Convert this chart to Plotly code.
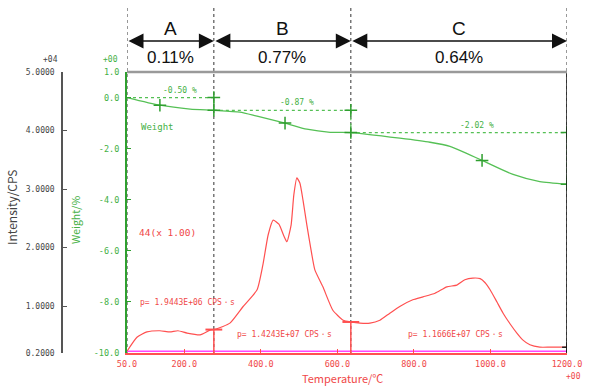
import plotly.graph_objects as go

# ---------------- data ----------------
temp_ms = [50, 76, 102, 136, 162, 183, 207, 241, 267, 283, 319, 353, 390, 405, 419, 432, 447,
           460, 468, 479, 486, 494, 502, 510, 520, 531, 541, 562, 588, 615, 635, 659, 685, 711,
           737, 764, 797, 824, 855, 886, 912, 933, 954, 973, 986, 999, 1017, 1033, 1051, 1069,
           1085, 1103, 1129, 1156, 1200]
intensity = [0.23, 0.47, 0.56, 0.58, 0.56, 0.58, 0.54, 0.51, 0.59, 0.61, 0.71, 0.99, 1.28, 1.70,
             2.22, 2.47, 2.40, 2.20, 2.10, 2.39, 2.90, 3.19, 3.10, 2.81, 2.39, 1.96, 1.62, 1.33,
             0.93, 0.76, 0.73, 0.71, 0.71, 0.76, 0.88, 1.00, 1.11, 1.16, 1.22, 1.33, 1.36, 1.45,
             1.48, 1.47, 1.40, 1.28, 1.07, 0.88, 0.70, 0.54, 0.42, 0.34, 0.30, 0.30, 0.30]

temp_wt = [50, 136, 215, 277, 345, 390, 463, 520, 581, 635, 763, 842, 894, 978, 1059, 1129, 1200]
weight = [0.0, -0.30, -0.45, -0.50, -0.57, -0.73, -1.00, -1.24, -1.36, -1.37, -1.59, -1.75,
          -1.91, -2.46, -3.01, -3.29, -3.39]

stage_bounds = [50, 277, 635, 1200]
stage_weights = [0.0, -0.50, -1.37, -3.39]
stage_intensity = [0.23, 0.60, 0.73, 0.30]
stage_names = ["A", "B", "C"]
stage_pct = ["0.11%", "0.77%", "0.64%"]
step_labels = ["-0.50 %", "-0.87 %", "-2.02 %"]
step_label_pos = [(188, 0.26), (494, -0.18), (965, -1.08)]
mid_temps = [136, 463, 978]
mid_weights = [-0.30, -1.00, -2.46]
peak_areas = ["p= 1.9443E+06 CPS・s", "p= 1.4243E+07 CPS・s", "p= 1.1666E+07 CPS・s"]
peak_label_pos = [(79, 1.07), (332, 0.51), (779, 0.52)]
baseline = 0.23

x_ticks = [50, 200, 400, 600, 800, 1000, 1200]
wt_ticks = [1, 0, -2, -4, -6, -8, -10]
int_ticks = [5, 4, 3, 2, 1, 0.2]

# ---------------- style ----------------
RED = "#ff5050"
RED_TXT = "#f04848"
GREEN = "#55c055"
GREEN_AX = "#2f9f2f"
GREEN_TXT = "#44b044"
MAGENTA = "#ff44ff"
GRAY = "#444444"
MONO = "DejaVu Sans Mono"
JP = "Noto Sans CJK JP"

OFF = 0  # page body margin removed by post_script
W, H = 590 - OFF, 390 - OFF
ML, MR, MT, MB = 127 - 107 - OFF, 23, 72 - OFF, 37
PW = W - ML - MR
PH = H - MT - MB


def px_x(px):
    return (px - OFF - ML) / PW


def px_y(py):
    return (H - MB - (py - OFF)) / PH


fig = go.Figure()

# magenta baseline
fig.add_trace(go.Scatter(x=[stage_bounds[0], stage_bounds[-1]], y=[baseline, baseline],
                         yaxis="y2", mode="lines", line=dict(color=MAGENTA, width=1.5),
                         hoverinfo="skip"))

# red MS curve
fig.add_trace(go.Scatter(x=temp_ms, y=intensity, yaxis="y2", mode="lines",
                         line=dict(color=RED, width=1.2, shape="spline", smoothing=0.5),
                         hoverinfo="skip"))

# red integration boundaries
vx, vy = [], []
for b, iv in zip(stage_bounds[1:3], stage_intensity[1:3]):
    vx += [b, b, None]
    vy += [iv, int_ticks[-1], None]
fig.add_trace(go.Scatter(x=vx, y=vy, yaxis="y2", mode="lines",
                         line=dict(color=RED, width=1.5), hoverinfo="skip"))
fig.add_trace(go.Scatter(x=stage_bounds[1:3], y=stage_intensity[1:3], yaxis="y2", mode="markers",
                         marker=dict(symbol="line-ew", size=12, line=dict(color=RED, width=2)),
                         hoverinfo="skip"))
fig.add_trace(go.Scatter(x=[stage_bounds[3]], y=[stage_intensity[3]], yaxis="y2", mode="markers",
                         marker=dict(symbol="cross-thin", size=7, line=dict(color="#222", width=1.5)),
                         hoverinfo="skip"))

# weight step guides (dotted)
sx, sy = [], []
for i in range(3):
    sx += [stage_bounds[i], stage_bounds[i + 1], stage_bounds[i + 1], None]
    sy += [stage_weights[i], stage_weights[i], stage_weights[i + 1], None]
fig.add_trace(go.Scatter(x=sx, y=sy, mode="lines",
                         line=dict(color=GREEN, width=1.2, dash="dot"), hoverinfo="skip"))

# weight curve
fig.add_trace(go.Scatter(x=temp_wt, y=weight, mode="lines",
                         line=dict(color=GREEN, width=1.3, shape="spline", smoothing=0.6),
                         hoverinfo="skip"))

# green crosses
cx, cy = [], []
for i in range(3):
    cx += [stage_bounds[i + 1], stage_bounds[i + 1]]
    cy += [stage_weights[i], stage_weights[i + 1]]
cx += mid_temps
cy += mid_weights
fig.add_trace(go.Scatter(x=cx, y=cy, mode="markers",
                         marker=dict(symbol="cross-thin", size=9, line=dict(color=GREEN_AX, width=1.5)),
                         hoverinfo="skip"))

# shapes: divider lines, top line
Y_TOP = px_y(8)
for b in stage_bounds:
    fig.add_shape(type="line", xref="x", yref="paper", x0=b, x1=b, y0=0, y1=Y_TOP,
                  line=dict(color="#333", width=1, dash="dot"), layer="below")
fig.add_shape(type="line", xref="x", yref="paper", x0=stage_bounds[-1], x1=stage_bounds[-1],
              y0=0, y1=1, line=dict(color="#111", width=1.5))
fig.add_shape(type="line", xref="x", yref="paper", x0=stage_bounds[0], x1=stage_bounds[-1],
              y0=1, y1=1, line=dict(color="#9a9a9a", width=2.5))

C = dict(xanchor="center", yanchor="middle", showarrow=False)
ann = []
Y_ARROW = px_y(41)
for i in range(3):
    a, b = stage_bounds[i], stage_bounds[i + 1]
    ann.append(dict(x=b, y=Y_ARROW, xref="x", yref="paper", ax=a, ay=0, axref="x", ayref="pixel",
                    text="", showarrow=True, arrowhead=2, arrowside="end+start", arrowsize=2,
                    arrowwidth=1.5, arrowcolor="#111", standoff=0, startstandoff=0))
    mid = (a + b) / 2
    ann.append(dict(x=mid, y=px_y(28), xref="x", yref="paper", text=stage_names[i], **C,
                    font=dict(family="Liberation Sans", size=19, color="#111")))
    ann.append(dict(x=mid, y=px_y(57), xref="x", yref="paper", text=stage_pct[i], **C,
                    font=dict(family="Liberation Sans", size=17, color="#111")))
    tx, ty = step_label_pos[i]
    ann.append(dict(x=tx, y=ty, xref="x", yref="y", text=step_labels[i], **C,
                    font=dict(family=MONO, size=8, color=GREEN_TXT)))
    px_, py_ = peak_label_pos[i]
    ann.append(dict(x=px_, y=py_, xref="x", yref="y2", text=peak_areas[i], showarrow=False,
                    xanchor="left", yanchor="middle", font=dict(family=MONO, size=8, color=RED_TXT)))

ann.append(dict(x=131, y=-1.16, xref="x", yref="y", text="Weight", **C,
                font=dict(family=MONO, size=9, color=GREEN_TXT)))
ann.append(dict(x=155, y=2.25, xref="x", yref="y2", text="44(x 1.00)", **C,
                font=dict(family=MONO, size=9.5, color=RED_TXT)))

# outside texts
ann.append(dict(x=px_x(50), y=px_y(59), xref="paper", yref="paper", text="+04", **C,
                font=dict(family=MONO, size=8, color=GRAY)))
ann.append(dict(x=px_x(110), y=px_y(59), xref="paper", yref="paper", text="+00", **C,
                font=dict(family=MONO, size=8, color=GREEN_TXT)))
ann.append(dict(x=px_x(573), y=px_y(376), xref="paper", yref="paper", text="+00", **C,
                font=dict(family=MONO, size=8, color=RED_TXT)))
ann.append(dict(x=px_x(342), y=px_y(378), xref="paper", yref="paper", text="Temperature/℃", **C,
                font=dict(family=JP, size=11, color=RED_TXT)))
ann.append(dict(x=px_x(11), y=px_y(207), xref="paper", yref="paper", text="Intensity/CPS", **C,
                textangle=-90, font=dict(family=JP, size=12, color=GRAY)))
ann.append(dict(x=px_x(75), y=px_y(220), xref="paper", yref="paper", text="Weight/%", **C,
                textangle=-90, font=dict(family=JP, size=10.5, color=GREEN_TXT)))

fig.update_layout(
    width=W, height=H, margin=dict(l=ML, r=MR, t=MT, b=MB, autoexpand=False),
    plot_bgcolor="white", paper_bgcolor="white", showlegend=False,
    annotations=ann,
    xaxis=dict(domain=[px_x(127), 1], range=[stage_bounds[0], stage_bounds[-1]],
               showline=True, linecolor=RED, linewidth=1.5, ticks="inside", ticklen=4,
               tickcolor=RED, tickvals=x_ticks, ticktext=[f"{v:.1f}" for v in x_ticks],
               tickfont=dict(family=MONO, size=8.5, color=RED_TXT), showgrid=False,
               zeroline=False, ticklabelstandoff=2, automargin=False),
    yaxis=dict(range=[-10, 1], anchor="x", showline=True, linecolor=GREEN_AX, linewidth=2,
               ticks="inside", ticklen=4, tickcolor=GREEN_AX, tickvals=wt_ticks,
               ticktext=[f"{v:.1f}" for v in wt_ticks],
               tickfont=dict(family=MONO, size=8.5, color=GREEN_TXT), showgrid=False,
               zeroline=False, ticklabelstandoff=4, automargin=False),
    yaxis2=dict(range=[int_ticks[-1], int_ticks[0]], overlaying="y", anchor="free",
                position=px_x(62), side="left", showline=True, linecolor="#555", linewidth=1.5,
                ticks="inside", ticklen=4, tickcolor="#555", tickvals=int_ticks,
                ticktext=[f"{v:.4f}" for v in int_ticks],
                tickfont=dict(family=MONO, size=8, color=GRAY), showgrid=False,
                zeroline=False, ticklabelstandoff=5, automargin=False),
)

fig.write_html("out.html", config={"displayModeBar": False},
               post_script="document.body.style.margin='0';")
